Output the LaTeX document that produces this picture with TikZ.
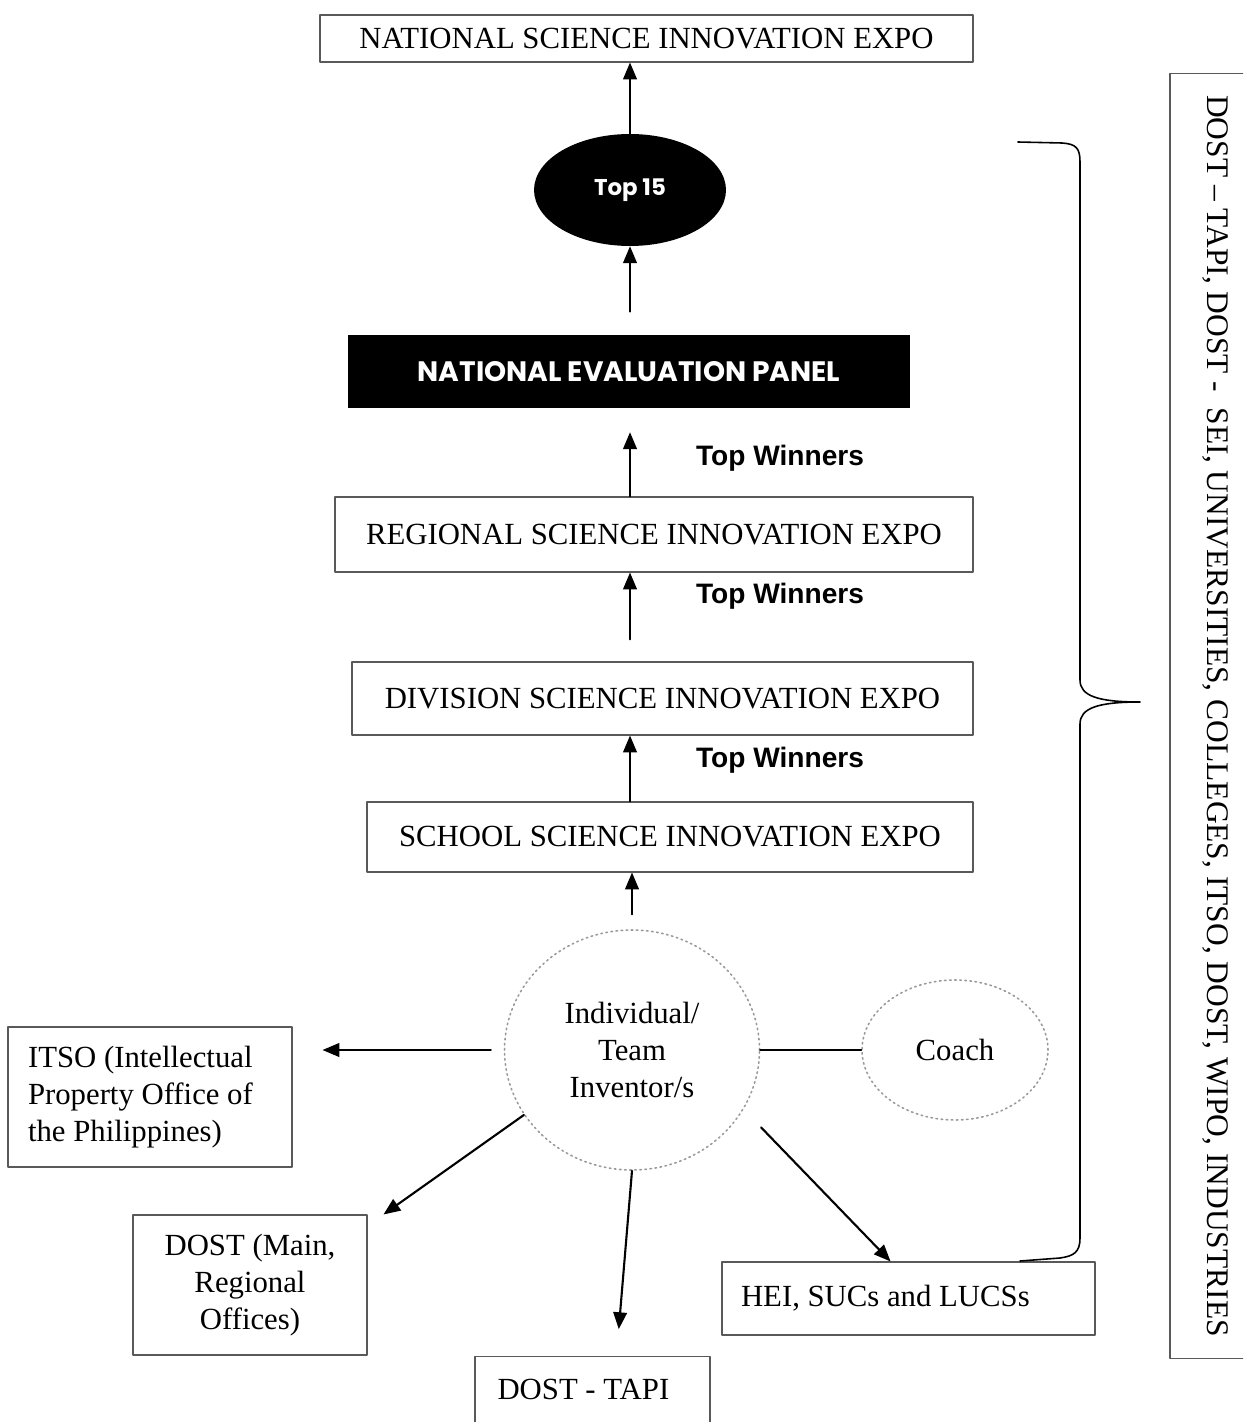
\documentclass[tikz,border=0pt]{standalone}
\usepackage{fontspec}
\setmainfont{Liberation Serif}
\newfontfamily\winfont{Liberation Sans}
\newfontfamily\popfont{Poppins}
\usetikzlibrary{arrows,shapes.geometric}

\begin{document}
\begin{tikzpicture}[line cap=round,line join=round,>=triangle 45,x=0.02cm,y=-0.02cm,
  expo/.style={draw=black!65,line width=0.7pt,inner sep=0pt,font=\fontsize{17.5}{21}\selectfont},
  bubble/.style={ellipse,draw=black!40,dotted,line width=0.9pt,inner sep=0pt,align=center,font=\fontsize{17.5}{21}\selectfont},
  blackbox/.style={fill=black,text=white,inner sep=0pt,font=\popfont\bfseries\fontsize{16}{19}\selectfont},
  winners/.style={font=\winfont\bfseries\fontsize{16}{19}\selectfont},
  flow/.style={->,line width=1.2pt}]
\useasboundingbox (0,0) rectangle (1243,1422);
\clip (0,0) rectangle (1243,1422);
\node[expo,minimum width=13.06cm,minimum height=0.94cm] (natl) at (646.5,38.5) {NATIONAL SCIENCE INNOVATION EXPO};
\node[blackbox,ellipse,minimum width=3.84cm,minimum height=2.24cm,font=\popfont\bfseries\fontsize{13}{15}\selectfont] (top15) at (630,190) {Top 15};
\node[blackbox,minimum width=11.24cm,minimum height=1.46cm] (nep) at (629,371.5) {NATIONAL EVALUATION PANEL};
\node[expo,minimum width=12.76cm,minimum height=1.5cm] (reg) at (654,534.5) {REGIONAL SCIENCE INNOVATION EXPO};
\node[expo,minimum width=12.42cm,minimum height=1.46cm] (div) at (662.5,698.5) {DIVISION SCIENCE INNOVATION EXPO};
\node[expo,minimum width=12.12cm,minimum height=1.4cm] (school) at (670,837) {SCHOOL SCIENCE INNOVATION EXPO};
\node[winners] (tw1) at (780,458) {Top Winners};
\node[winners] (tw2) at (780,596) {Top Winners};
\node[winners] (tw3) at (780,760) {Top Winners};
\node[bubble,minimum width=5.1cm,minimum height=4.8cm] (ind) at (632,1050) {Individual/\\Team\\Inventor/s};
\node[bubble,minimum width=3.72cm,minimum height=2.8cm] (coach) at (955,1050) {Coach};
\node[expo,minimum width=5.68cm,minimum height=2.8cm,text width=4.88cm,align=flush left] (itso) at (150,1097) {ITSO (Intellectual\\Property Office of\\the Philippines)};
\node[expo,minimum width=4.68cm,minimum height=2.8cm,align=center] (dostm) at (250,1285) {DOST (Main,\\Regional\\Offices)};
\node[expo,minimum width=4.7cm,minimum height=1.9cm,text depth=0.6cm] (tapi) at (592.5,1404) {\makebox[3.8cm][l]{DOST - TAPI}};
\node[expo,minimum width=7.46cm,minimum height=1.46cm] (hei) at (908.5,1298.5) {\makebox[6.7cm][l]{HEI, SUCs and LUCSs}};
\node[expo,rotate=-90,minimum width=25.7cm,minimum height=1.8cm,font=\fontsize{17.9}{21}\selectfont] (partners) at (1215,716) {DOST – TAPI, DOST -\ \ SEI, UNIVERSITIES, COLLEGES, ITSO, DOST, WIPO, INDUSTRIES};
\draw[flow] (top15) -- (natl.south -| top15);
\draw[flow,shorten <=0.46cm] (nep.north -| top15) -- (top15.south);
\draw[flow,shorten >=0.48cm] (reg.north -| top15) -- (nep.south -| top15);
\draw[flow,shorten <=0.44cm] (div.north -| top15) -- (reg.south -| top15);
\draw[flow] (school.north -| top15) -- (div.south -| top15);
\draw[flow,shorten <=0.3cm] (ind.north) -- (school.south -| ind);
\draw[flow,shorten <=0.26cm,shorten >=0.6cm] (ind.west) -- (itso.east |- ind.west);
\draw[flow] (ind.211) -- ([xshift=0.32cm]dostm.north east);
\draw[flow,shorten >=0.54cm] (ind.south) -- ([xshift=0.48cm]tapi.north);
\draw[flow,shorten <=0.5cm] (ind.-28) -- ([xshift=-0.36cm]hei.north);
\draw[line width=1.2pt] (ind.east) -- (coach.west);
\draw[line width=0.9pt] (1018,142) -- (1062,143) .. controls (1076,144) and (1080,148) .. (1080,162) -- (1080,680) .. controls (1080,696) and (1098,702) .. (1140,702) .. controls (1098,702) and (1080,708) .. (1080,724) -- (1080,1238) .. controls (1080,1252) and (1074,1256) .. (1060,1258) -- (1020,1261);
\end{tikzpicture}
\end{document}
